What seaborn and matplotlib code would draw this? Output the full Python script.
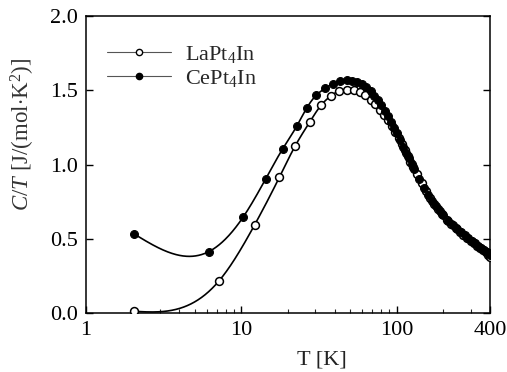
import numpy as np
import pandas as pd
import matplotlib
matplotlib.use("Agg")
import matplotlib.pyplot as plt
import seaborn as sns
from matplotlib.lines import Line2D
from matplotlib.ticker import FixedLocator, NullFormatter, MultipleLocator

# LaPt4In - C/T vs T
la_T = [2.05, 7.2, 12.2, 17.6, 22.3, 27.6, 32.6, 37.8, 42.8, 47.7,
        53, 58, 63, 68, 73, 78, 83, 88, 93, 98, 103, 108, 113, 118, 123, 128,
        135, 145, 155, 165, 175, 185, 195, 210, 225, 240, 255, 270, 285, 300,
        315, 330, 345, 360, 375, 390, 400]
la_CT = [0.011, 0.217, 0.594, 0.914, 1.127, 1.286, 1.398, 1.462, 1.496, 1.505,
         1.500, 1.490, 1.465, 1.436, 1.405, 1.370, 1.335, 1.298, 1.260, 1.222, 1.180, 1.138, 1.096, 1.056, 1.018, 0.982,
         0.935, 0.873, 0.820, 0.774, 0.734, 0.699, 0.668, 0.629, 0.597, 0.570, 0.546, 0.525, 0.505, 0.487,
         0.470, 0.454, 0.440, 0.425, 0.410, 0.392, 0.375]

# CePt4In - C/T vs T
ce_T = [2.05, 6.2, 10.3, 14.4, 18.5, 22.7, 26.4, 30.3, 34.6, 39.1, 43.3, 47.7,
        52, 56, 60, 64, 68, 72, 76, 80, 84, 88, 92, 96, 100, 105, 110, 115, 120, 125, 130,
        140, 150, 160, 170, 180, 190, 200, 215, 230, 245, 260, 275, 290, 305, 320,
        335, 350, 365, 380, 390, 400]
ce_CT = [0.531, 0.414, 0.647, 0.905, 1.106, 1.256, 1.380, 1.465, 1.512, 1.545, 1.561, 1.566,
         1.564, 1.556, 1.542, 1.520, 1.492, 1.462, 1.432, 1.398, 1.362, 1.325, 1.287, 1.248, 1.210, 1.163, 1.118, 1.080, 1.043, 1.005, 0.970,
         0.905, 0.845, 0.797, 0.755, 0.718, 0.686, 0.658, 0.622, 0.592, 0.566, 0.543, 0.522, 0.503, 0.485, 0.469,
         0.454, 0.440, 0.427, 0.414, 0.404, 0.393]

x_ticks = [1, 10, 100, 400]
x_ticklabels = ["1", "10", "100", "400"]


def natural_spline(x, y, xs):
    # smooth connecting line through the points, built in log(T)
    x = np.log10(np.asarray(x, float))
    xs = np.log10(xs)
    y = np.asarray(y, float)
    n = len(x)
    h = np.diff(x)
    A = np.zeros((n, n))
    r = np.zeros(n)
    A[0, 0] = 1
    A[-1, -1] = 1
    for i in range(1, n - 1):
        A[i, i - 1] = h[i - 1]
        A[i, i] = 2 * (h[i - 1] + h[i])
        A[i, i + 1] = h[i]
        r[i] = 6 * ((y[i + 1] - y[i]) / h[i] - (y[i] - y[i - 1]) / h[i - 1])
    M = np.linalg.solve(A, r)
    idx = np.clip(np.searchsorted(x, xs) - 1, 0, n - 2)
    hi = h[idx]
    a = x[idx + 1] - xs
    b = xs - x[idx]
    return (M[idx] * a ** 3 / (6 * hi) + M[idx + 1] * b ** 3 / (6 * hi)
            + (y[idx] / hi - M[idx] * hi / 6) * a + (y[idx + 1] / hi - M[idx + 1] * hi / 6) * b)


sns.set_theme(style="ticks")
plt.rcParams['font.family'] = ['Liberation Serif', 'DejaVu Serif']
plt.rcParams['mathtext.fontset'] = 'custom'
plt.rcParams['mathtext.rm'] = 'Liberation Serif'
plt.rcParams['mathtext.it'] = 'Liberation Serif:italic'
plt.rcParams['mathtext.bf'] = 'Liberation Serif:bold'

la = pd.DataFrame({"T": la_T, "CT": la_CT})
ce = pd.DataFrame({"T": ce_T, "CT": ce_CT})

fig = plt.figure(figsize=(5.07, 3.72), dpi=100)
ax = fig.add_axes([86 / 507, 59 / 372, 404 / 507, 297 / 372])

for df in (la, ce):
    ts = np.geomspace(df["T"].iloc[0], df["T"].iloc[-1], 600)
    ax.plot(ts, natural_spline(df["T"], df["CT"], ts), color="black", lw=1.2, zorder=2)

sns.scatterplot(data=la, x="T", y="CT", ax=ax, marker="o", s=32,
                facecolor="white", edgecolor="black", linewidth=1.1, zorder=3, legend=False)
sns.scatterplot(data=ce, x="T", y="CT", ax=ax, marker="o", s=32,
                color="black", edgecolor="black", linewidth=0.8, zorder=4, legend=False)

ax.set_xscale("log")
ax.set_xlim(1, 400)
ax.set_ylim(0, 2.0)
ax.xaxis.set_major_locator(FixedLocator(x_ticks))
ax.set_xticklabels(x_ticklabels)
minor = [v * d for d in (1, 10, 100) for v in range(2, 10) if v * d < 400]
ax.xaxis.set_minor_locator(FixedLocator(minor))
ax.xaxis.set_minor_formatter(NullFormatter())
ax.yaxis.set_major_locator(MultipleLocator(0.5))
ax.yaxis.set_major_formatter(matplotlib.ticker.FormatStrFormatter("%.1f"))

ax.tick_params(axis="both", which="major", direction="in", length=5, width=1,
               labelsize=16, colors="black", pad=6)
ax.tick_params(axis="x", which="minor", direction="in", length=3, width=0.8)
ax.tick_params(axis="y", right=True, which="major")
ax.tick_params(axis="x", top=False, which="both")
for sp in ax.spines.values():
    sp.set_linewidth(1.1)
    sp.set_color("black")

ax.set_xlabel("T [K]", fontsize=16, color="#222222")
ax.set_ylabel(r"$C/T$ [J/(mol$\cdot$K$^2$)]", fontsize=16.5, color="#333333")
ax.xaxis.set_label_coords(0.584, -0.125)
ax.yaxis.set_label_coords(-0.122, 0.603)

handles = [
    Line2D([], [], color="#555555", lw=0.8, marker="o", markersize=4.5,
           markerfacecolor="white", markeredgecolor="black", markeredgewidth=1),
    Line2D([], [], color="#555555", lw=0.8, marker="o", markersize=4.5,
           markerfacecolor="black", markeredgecolor="black"),
]
ax.legend(handles, ["LaPt$_4$In", "CePt$_4$In"], loc="upper left",
          bbox_to_anchor=(0.03, 0.935), frameon=False, fontsize=16,
          handlelength=2.9, handletextpad=0.6, labelspacing=0.12, borderaxespad=0)

fig.savefig("out.png", dpi=100)
